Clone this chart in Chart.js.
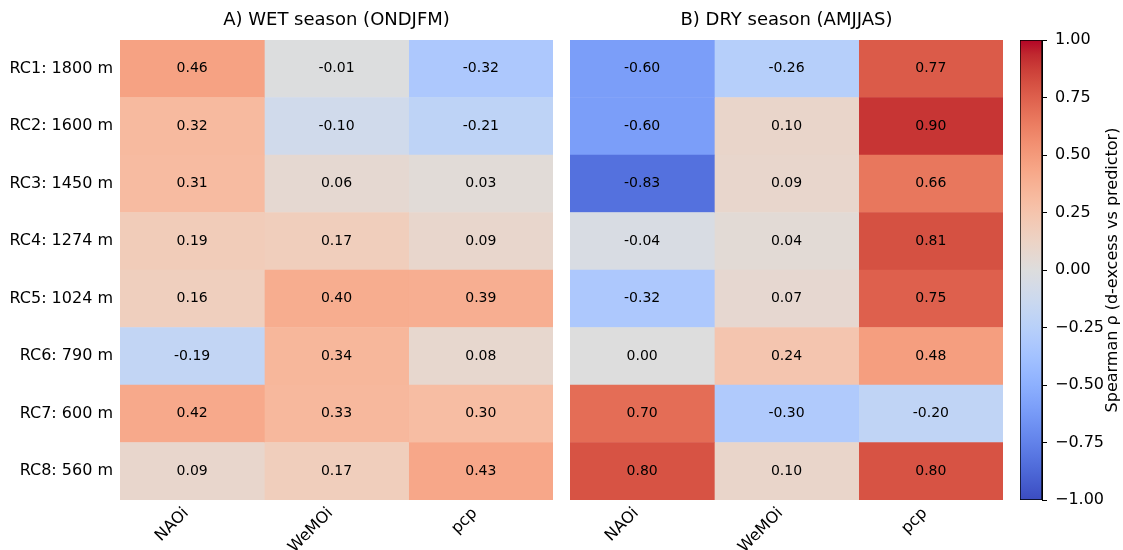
<!DOCTYPE html>
<html>
<head>
<meta charset="utf-8">
<script src="https://cdn.jsdelivr.net/npm/chart.js@4.4.0/dist/chart.umd.min.js"></script>
<style>
body { margin: 0; background: #fff; }
.box { position: absolute; top: 0; height: 550px; }
</style>
</head>
<body>
<div class="box" style="left:0;width:553px"><canvas id="wet"></canvas></div>
<div class="box" style="left:570px;width:433px"><canvas id="dry"></canvas></div>
<div class="box" style="left:1020px;width:103px"><canvas id="cbar"></canvas></div>
<script>
var rowLabels = ['RC1: 1800 m', 'RC2: 1600 m', 'RC3: 1450 m', 'RC4: 1274 m',
                 'RC5: 1024 m', 'RC6: 790 m', 'RC7: 600 m', 'RC8: 560 m'];
var colLabels = ['NAOi', 'WeMOi', 'pcp'];

// wet season (ONDJFM)
var wetNAOi  = [0.46, 0.32, 0.31, 0.19, 0.16, -0.19, 0.42, 0.09];
var wetWeMOi = [-0.01, -0.10, 0.06, 0.17, 0.40, 0.34, 0.33, 0.17];
var wetPcp   = [-0.32, -0.21, 0.03, 0.09, 0.39, 0.08, 0.30, 0.43];

// dry season (AMJJAS)
var dryNAOi  = [-0.60, -0.60, -0.83, -0.04, -0.32, 0.00, 0.70, 0.80];
var dryWeMOi = [-0.26, 0.10, 0.09, 0.04, 0.07, 0.24, -0.30, 0.10];
var dryPcp   = [0.77, 0.90, 0.66, 0.81, 0.75, 0.48, -0.20, 0.80];

var cbarTicks = [-1, -0.75, -0.5, -0.25, 0, 0.25, 0.5, 0.75, 1];

// matplotlib coolwarm
var cmap = [
  [59,76,192],[68,90,204],[77,104,215],[87,117,225],[98,130,234],[108,142,241],
  [119,154,247],[130,165,251],[141,176,254],[152,185,255],[163,194,255],[174,201,253],
  [184,208,249],[194,213,244],[204,217,238],[213,219,230],[221,221,221],[229,216,209],
  [236,211,197],[241,204,185],[245,196,173],[247,187,160],[247,177,148],[247,166,135],
  [244,154,123],[241,141,111],[236,127,99],[229,112,88],[222,96,77],[213,80,66],
  [203,62,56],[192,40,47],[180,4,38]
];

function coolwarm(v) {
  var t = Math.max(0, Math.min(1, (v + 1) / 2)) * 32;
  var i = Math.min(31, Math.floor(t)), f = t - i;
  var a = cmap[i], b = cmap[i + 1];
  return 'rgb(' + [0, 1, 2].map(function(k) { return Math.round(a[k] + (b[k] - a[k]) * f); }).join(',') + ')';
}

Chart.defaults.font.family = "'DejaVu Sans', sans-serif";
Chart.defaults.color = '#000';

var cellLabels = {
  id: 'cellLabels',
  afterDatasetsDraw: function(chart) {
    var ctx = chart.ctx;
    ctx.save();
    ctx.font = "14px 'DejaVu Sans'";
    ctx.fillStyle = '#000';
    ctx.textAlign = 'center';
    ctx.textBaseline = 'middle';
    chart.data.datasets.forEach(function(ds, j) {
      chart.getDatasetMeta(j).data.forEach(function(bar, i) {
        ctx.fillText(ds.values[i].toFixed(2), (bar.x + bar.base) / 2, bar.y);
      });
    });
    ctx.restore();
  }
};

function heatmap(id, title, columns, showY) {
  return new Chart(document.getElementById(id), {
    type: 'bar',
    data: {
      labels: rowLabels,
      datasets: columns.map(function(vals, j) {
        return {
          data: rowLabels.map(function() { return [j - 0.5, j + 0.5]; }),
          values: vals,
          backgroundColor: vals.map(coolwarm),
          borderWidth: 0,
          grouped: false,
          barPercentage: 1,
          categoryPercentage: 1
        };
      })
    },
    options: {
      indexAxis: 'y',
      responsive: true,
      maintainAspectRatio: false,
      animation: false,
      layout: { padding: 0 },
      plugins: {
        legend: { display: false },
        tooltip: { enabled: false },
        title: {
          display: true,
          text: title,
          fullSize: false,
          color: '#000',
          font: { size: 18, weight: 'normal' },
          padding: { top: 10, bottom: 8.4 }
        }
      },
      scales: {
        x: {
          type: 'linear',
          min: -0.5,
          max: 2.5,
          afterBuildTicks: function(s) {
            s.ticks = colLabels.map(function(c, j) { return { value: j }; });
          },
          ticks: {
            callback: function(v) { return colLabels[v]; },
            minRotation: 45,
            maxRotation: 45,
            autoSkip: false,
            font: { size: 16 },
            padding: 4,
            labelOffset: -6
          },
          grid: { display: false, drawTicks: false },
          border: { display: false },
          afterFit: function(s) { s.height = 50; }
        },
        y: {
          display: showY,
          ticks: { font: { size: 16 }, padding: 7 },
          grid: { display: false, drawTicks: false },
          border: { display: false },
          afterFit: function(s) { s.width = showY ? 120 : 0; }
        }
      }
    },
    plugins: [cellLabels]
  });
}

heatmap('wet', 'A) WET season (ONDJFM)', [wetNAOi, wetWeMOi, wetPcp], true);
heatmap('dry', 'B) DRY season (AMJJAS)', [dryNAOi, dryWeMOi, dryPcp], false);

var cbarTitle = {
  id: 'cbarTitle',
  afterDraw: function(chart) {
    var a = chart.chartArea, ctx = chart.ctx;
    ctx.save();
    ctx.translate(93, (a.top + a.bottom) / 2);
    ctx.rotate(-Math.PI / 2);
    ctx.font = "16px 'DejaVu Sans'";
    ctx.fillStyle = '#000';
    ctx.textAlign = 'center';
    ctx.textBaseline = 'middle';
    ctx.fillText('Spearman \u03c1 (d-excess vs predictor)', 0, 0);
    ctx.restore();
  }
};

new Chart(document.getElementById('cbar'), {
  type: 'bar',
  data: {
    labels: [''],
    datasets: [{
      data: [[-1, 1]],
      backgroundColor: function(c) {
        var a = c.chart.chartArea;
        if (!a) return null;
        var g = c.chart.ctx.createLinearGradient(0, a.bottom, 0, a.top);
        cmap.forEach(function(rgb, k) { g.addColorStop(k / 32, 'rgb(' + rgb.join(',') + ')'); });
        return g;
      },
      borderColor: '#000',
      borderWidth: 1,
      borderSkipped: false,
      barPercentage: 1,
      categoryPercentage: 1
    }]
  },
  options: {
    responsive: true,
    maintainAspectRatio: false,
    animation: false,
    layout: { padding: { top: 40, bottom: 50, left: 0, right: 0 } },
    plugins: { legend: { display: false }, tooltip: { enabled: false } },
    scales: {
      x: { display: false },
      y: {
        position: 'right',
        min: -1,
        max: 1,
        afterBuildTicks: function(s) {
          s.ticks = cbarTicks.map(function(v) { return { value: v }; });
        },
        ticks: {
          callback: function(v) { return (v < 0 ? '\u2212' : '') + Math.abs(v).toFixed(2); },
          font: { size: 16 },
          padding: 8
        },
        grid: { drawOnChartArea: false, drawTicks: true, tickLength: 5, color: '#000' },
        border: { display: true, color: '#000' },
        afterFit: function(s) { s.width = 81; }
      }
    }
  },
  plugins: [cbarTitle]
});
</script>
</body>
</html>
